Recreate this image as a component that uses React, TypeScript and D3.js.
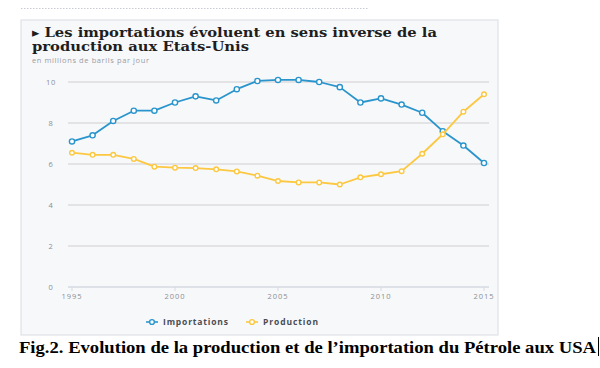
import { useEffect, useRef } from "react";
import * as d3 from "d3";

const WIDTH = 600;
const HEIGHT = 368;

const years = d3.range(1995, 2016);
const importations = [7.1, 7.4, 8.1, 8.6, 8.6, 9.0, 9.3, 9.1, 9.65, 10.05, 10.1, 10.1, 10.0, 9.75, 9.0, 9.2, 8.9, 8.5, 7.6, 6.9, 6.05];
const production = [6.55, 6.45, 6.45, 6.25, 5.87, 5.82, 5.8, 5.74, 5.64, 5.43, 5.17, 5.1, 5.1, 5.0, 5.35, 5.5, 5.65, 6.5, 7.45, 8.55, 9.4];
const yTicks = [0, 2, 4, 6, 8, 10];
const xTicks = [1995, 2000, 2005, 2010, 2015];

const series = [
  { name: "Importations", values: importations, color: "#2a95cc", r: 2.6 },
  { name: "Production", values: production, color: "#fcc841", r: 2.3 }
];

export default function App() {
  const svgRef = useRef<SVGSVGElement | null>(null);

  useEffect(() => {
    const svg = d3.select(svgRef.current);
    svg.selectAll("*").remove();

    const x = d3.scaleLinear().domain([1995, 2015]).range([72, 484]);
    const y = d3.scaleLinear().domain([0, 10]).range([287, 82]);

    svg.append("rect").attr("width", WIDTH).attr("height", HEIGHT).attr("fill", "#ffffff");

    // faint dotted rule above the panel
    svg
      .append("line")
      .attr("x1", 21)
      .attr("x2", 368)
      .attr("y1", 8.5)
      .attr("y2", 8.5)
      .attr("stroke", "#c9ccd6")
      .attr("stroke-width", 1.2)
      .attr("stroke-dasharray", "1.5 1.5");

    svg
      .append("rect")
      .attr("x", 21)
      .attr("y", 20)
      .attr("width", 477)
      .attr("height", 315)
      .attr("fill", "#f7f8fa")
      .attr("stroke", "#dfe2e7")
      .attr("stroke-width", 1.2);

    const titleLines = [
      { text: "\u25B8 Les importations évoluent en sens inverse de la", y: 36.5, w: 405 },
      { text: "production aux Etats-Unis", y: 51, w: 217 }
    ];
    titleLines.forEach((l) => {
      svg
        .append("text")
        .attr("x", 32)
        .attr("y", l.y)
        .attr("font-family", "DejaVu Serif")
        .attr("font-weight", 700)
        .attr("font-size", 13)
        .attr("textLength", l.w)
        .attr("lengthAdjust", "spacingAndGlyphs")
        .attr("fill", "#1e1e1e")
        .text(l.text);
    });

    svg
      .append("text")
      .attr("x", 32)
      .attr("y", 63)
      .attr("font-family", "Open Sans")
      .attr("font-size", 7.5)
      .attr("textLength", 117)
      .attr("fill", "#9a9ca3")
      .text("en millions de barils par jour");

    const grid = svg.append("g");
    yTicks.forEach((t) => {
      grid
        .append("line")
        .attr("x1", 68)
        .attr("x2", 489)
        .attr("y1", y(t))
        .attr("y2", y(t))
        .attr("stroke", t === 0 ? "#d6dae2" : "#dcdddf")
        .attr("stroke-width", 1.3);
      grid
        .append("text")
        .attr("x", 51)
        .attr("y", y(t) + 2.7)
        .attr("text-anchor", "middle")
        .attr("font-family", "Open Sans")
        .attr("font-size", 7.5)
        .attr("letter-spacing", 0.6)
        .attr("fill", "#8c8e94")
        .text(t);
    });

    xTicks.forEach((t) => {
      grid
        .append("line")
        .attr("x1", x(t))
        .attr("x2", x(t))
        .attr("y1", y(0))
        .attr("y2", y(0) + 4)
        .attr("stroke", "#d6dae2")
        .attr("stroke-width", 1);
      grid
        .append("text")
        .attr("x", x(t))
        .attr("y", 299)
        .attr("text-anchor", "middle")
        .attr("font-family", "Open Sans")
        .attr("font-size", 7.5)
        .attr("letter-spacing", 1)
        .attr("fill", "#8c8e94")
        .text(t);
    });

    const line = d3
      .line<number>()
      .x((_, i) => x(years[i]))
      .y((d) => y(d));

    series.forEach((s) => {
      const g = svg.append("g");
      g.append("path")
        .attr("d", line(s.values))
        .attr("fill", "none")
        .attr("stroke", s.color)
        .attr("stroke-width", 1.8)
        .attr("stroke-linejoin", "round");
      s.values.forEach((v, i) => {
        g.append("circle")
          .attr("cx", x(years[i]))
          .attr("cy", y(v))
          .attr("r", s.r)
          .attr("fill", "#ffffff")
          .attr("stroke", s.color)
          .attr("stroke-width", 1.4);
      });
    });

    // legend
    const legend = [
      { s: series[0], x: 152, w: 65 },
      { s: series[1], x: 252, w: 55 }
    ];
    legend.forEach(({ s, x: lx, w }) => {
      svg
        .append("line")
        .attr("x1", lx - 6)
        .attr("x2", lx + 6)
        .attr("y1", 322)
        .attr("y2", 322)
        .attr("stroke", s.color)
        .attr("stroke-width", 1.6);
      svg
        .append("circle")
        .attr("cx", lx)
        .attr("cy", 322)
        .attr("r", 2.4)
        .attr("fill", "#ffffff")
        .attr("stroke", s.color)
        .attr("stroke-width", 1.4);
      svg
        .append("text")
        .attr("x", lx + 11)
        .attr("y", 325)
        .attr("font-family", "Open Sans")
        .attr("font-weight", 700)
        .attr("font-size", 8.5)
        .attr("textLength", w)
        .attr("fill", "#4a4c52")
        .text(s.name);
    });

    svg
      .append("text")
      .attr("x", 19)
      .attr("y", 352.5)
      .attr("font-family", "Liberation Serif")
      .attr("font-weight", 700)
      .attr("font-size", 17)
      .attr("textLength", 577)
      .attr("lengthAdjust", "spacingAndGlyphs")
      .attr("fill", "#000000")
      .text("Fig.2. Evolution de la production et de l\u2019importation du Pétrole aux USA");

    svg
      .append("line")
      .attr("x1", 598.5)
      .attr("x2", 598.5)
      .attr("y1", 337)
      .attr("y2", 356)
      .attr("stroke", "#000000")
      .attr("stroke-width", 1);
  }, []);

  return (
    <svg
      ref={svgRef}
      width={WIDTH}
      height={HEIGHT}
      style={{ position: "absolute", left: 0, top: 0 }}
    />
  );
}
